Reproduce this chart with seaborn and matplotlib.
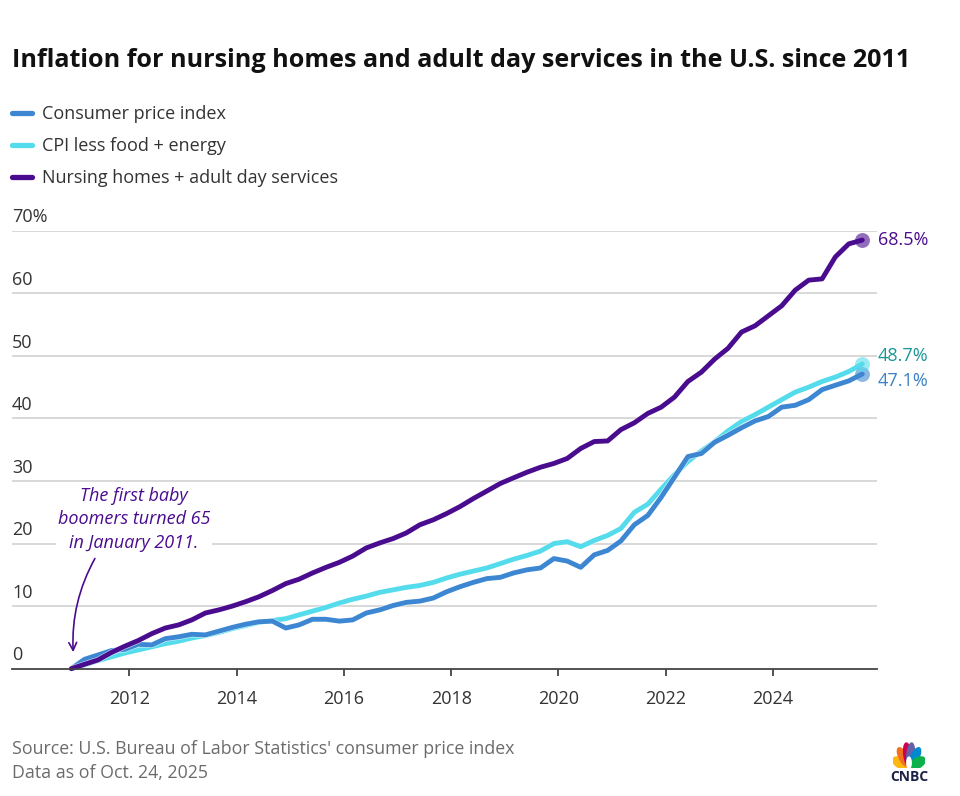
import pandas as pd
import numpy as np
import seaborn as sns
import matplotlib.pyplot as plt
import matplotlib.transforms as mtransforms
import matplotlib.patheffects as pe
from matplotlib.lines import Line2D
from matplotlib.patches import Ellipse

# Données : variation cumulée (%) depuis déc. 2010, une valeur par trimestre
dates = pd.date_range("2010-12-01", "2025-09-01", freq="3MS")

cpi = [0.0,
       1.5, 2.2, 2.9, 3.1,      # 2011
       3.9, 3.8, 4.8, 5.1,      # 2012
       5.5, 5.4, 6.0, 6.6,      # 2013
       7.1, 7.5, 7.6, 6.5,      # 2014
       7.0, 7.9, 7.9, 7.6,      # 2015
       7.8, 8.9, 9.4, 10.1,     # 2016
       10.6, 10.8, 11.3, 12.3,  # 2017
       13.1, 13.8, 14.4, 14.6,  # 2018
       15.3, 15.8, 16.1, 17.6,  # 2019
       17.2, 16.2, 18.2, 18.9,  # 2020
       20.4, 23.0, 24.5, 27.4,  # 2021
       30.6, 33.9, 34.4, 36.2,  # 2022
       37.3, 38.5, 39.6, 40.3,  # 2023
       41.8, 42.1, 43.0, 44.6,  # 2024
       45.3, 46.0, 47.1]        # 2025

core = [0.0,
        0.6, 1.3, 1.9, 2.5,
        3.0, 3.5, 4.0, 4.4,
        4.9, 5.3, 5.8, 6.4,
        6.9, 7.4, 7.7, 8.0,
        8.6, 9.2, 9.8, 10.5,
        11.1, 11.6, 12.2, 12.6,
        13.0, 13.3, 13.8, 14.5,
        15.1, 15.6, 16.1, 16.8,
        17.5, 18.1, 18.8, 20.0,
        20.3, 19.5, 20.5, 21.3,
        22.4, 25.0, 26.3, 28.7,
        31.0, 33.1, 34.8, 36.3,
        38.0, 39.5, 40.6, 41.8,
        43.0, 44.2, 45.0, 45.9,
        46.6, 47.5, 48.7]

nursing = [0.0,
           0.7, 1.4, 2.6, 3.6,
           4.5, 5.6, 6.5, 7.0,
           7.8, 8.9, 9.4, 10.0,
           10.7, 11.5, 12.5, 13.6,
           14.3, 15.3, 16.2, 17.0,
           18.0, 19.3, 20.1, 20.8,
           21.7, 23.0, 23.8, 24.8,
           25.9, 27.2, 28.4, 29.6,
           30.5, 31.4, 32.2, 32.8,
           33.6, 35.2, 36.3, 36.4,
           38.2, 39.3, 40.8, 41.8,
           43.4, 45.9, 47.4, 49.5,
           51.2, 53.8, 54.8, 56.4,
           58.0, 60.5, 62.1, 62.3,
           65.8, 67.9, 68.5]

series_names = ["Consumer price index", "CPI less food + energy",
                "Nursing homes + adult day services"]
end_labels = ["47.1%", "48.7%", "68.5%"]
y_ticks = [0, 10, 20, 30, 40, 50, 60, 70]
y_tick_labels = ["0", "10", "20", "30", "40", "50", "60", "70%"]
x_tick_years = [2012, 2014, 2016, 2018, 2020, 2022, 2024]

colors = {"Consumer price index": "#3d87d2",
          "CPI less food + energy": "#55dcec",
          "Nursing homes + adult day services": "#4a0c8e"}
label_colors = ["#3a82c8", "#1b9696", "#4a0c8e"]

df = pd.DataFrame({"date": list(dates) * 3,
                   "value": cpi + core + nursing,
                   "series": [n for n in series_names for _ in range(len(dates))]})

sns.set_theme(style="white")
plt.rcParams['font.family'] = ['Open Sans', 'DejaVu Sans']

fig = plt.figure(figsize=(9.6, 7.96), dpi=100)
ax = fig.add_axes([12 / 960, 1 - 668.7 / 796, 865 / 960, 438 / 796])

sns.lineplot(data=df, x="date", y="value", hue="series",
             hue_order=[series_names[1], series_names[0], series_names[2]],
             palette=colors, linewidth=3.5, legend=False, ax=ax)
for ln in ax.get_lines():
    ln.set_solid_capstyle("round")
    ln.set_clip_on(False)
    ln.set_path_effects([pe.Stroke(linewidth=4.5, foreground="white", alpha=0.6), pe.Normal()])

ax.set_xlim(pd.Timestamp("2009-10-23"), pd.Timestamp("2025-12-10"))
ax.set_ylim(0, 70)

# axes et grille
for s in ["top", "right", "left"]:
    ax.spines[s].set_visible(False)
ax.spines["bottom"].set_color("#444444")
ax.spines["bottom"].set_linewidth(1.3)
ax.set_yticks(y_ticks[1:])
ax.yaxis.grid(True, color="#d6d6d6", linewidth=1.3)
ax.set_axisbelow(True)
ax.tick_params(axis="y", length=0, labelleft=False)
ax.set_xticks([pd.Timestamp(f"{y}-01-01") for y in x_tick_years])
ax.set_xticklabels([str(y) for y in x_tick_years])
ax.tick_params(axis="x", length=5, width=1.3, color="#444444", pad=10,
               labelsize=13, labelcolor="#333333", bottom=True)
ax.set_xlabel("")
ax.set_ylabel("")

trans = mtransforms.blended_transform_factory(ax.transAxes, ax.transData)
for v, lab in zip(y_ticks, y_tick_labels):
    ax.annotate(lab, xy=(0, v), xycoords=trans, xytext=(0, 6), textcoords="offset points",
                ha="left", va="baseline", fontsize=13, color="#333333")

# points et étiquettes de fin
last = dates[-1]
offsets = [-5, 6, 0]
for name, vals, lab, lc, dy in zip(series_names, [cpi, core, nursing], end_labels, label_colors, offsets):
    ax.scatter([last], [vals[-1]], s=115, color=colors[name], alpha=0.6, zorder=5,
               linewidths=0, clip_on=False)
    ax.annotate(lab, xy=(last, vals[-1]), xytext=(11, dy), textcoords="offset points",
                ha="left", va="center", fontsize=13, color=lc)

# annotation
purple = "#4a0c8e"
ax.text(pd.Timestamp("2012-02-01"), 23.9,
        "The first baby\nboomers turned 65\nin January 2011.",
        ha="center", va="center", fontsize=13, style="italic", color=purple,
        linespacing=1.4, zorder=4, bbox=dict(fc="white", ec="none", pad=1))
ax.annotate("", xy=(pd.Timestamp("2010-12-15"), 2.2), xytext=(pd.Timestamp("2011-05-20"), 18.0),
            arrowprops=dict(arrowstyle="->", color=purple, lw=1.2,
                            connectionstyle="arc3,rad=0.15", mutation_scale=14))

# légende
handles = [Line2D([0], [0], color=colors[n], lw=3.8, solid_capstyle="round") for n in series_names]
fig.legend(handles, series_names, loc="upper left", bbox_to_anchor=(12 / 960, 1 - 105 / 796),
           frameon=False, fontsize=13, handlelength=1.1, handletextpad=0.55,
           labelspacing=0.78, borderpad=0, borderaxespad=0, labelcolor="#333333")

# titre et source
fig.text(12 / 960, 1 - 67 / 796, "Inflation for nursing homes and adult day services in the U.S. since 2011",
         ha="left", va="baseline", fontsize=18.1, fontweight="bold", color="#111111")
fig.text(12 / 960, 1 - 749 / 796, "Source: U.S. Bureau of Labor Statistics' consumer price index",
         ha="left", va="center", fontsize=12.8, color="#6b6b6b")
fig.text(12 / 960, 1 - 773 / 796, "Data as of Oct. 24, 2025",
         ha="left", va="center", fontsize=12.8, color="#6b6b6b")

# logo CNBC
lax = fig.add_axes([893 / 960, 1 - 768 / 796, 32 / 960, 28 / 796])
lax.set_xlim(-1.1, 1.1)
lax.set_ylim(-0.05, 1.3)
lax.axis("off")
feather_colors = ["#fcb711", "#f37021", "#cc004c", "#6460aa", "#0089d0", "#0db14b"]
feather_angles = [162, 130, 100, 80, 50, 18]
for c, a in zip(feather_colors, feather_angles):
    r = np.deg2rad(a)
    lax.add_patch(Ellipse((0.62 * np.cos(r), 0.62 * np.sin(r)), 0.5, 1.1, angle=a - 90, color=c))
lax.add_patch(Ellipse((0, 0.2), 0.3, 0.55, color="white"))
fig.text(909 / 960, 1 - 777 / 796, "CNBC", ha="center", va="center", fontsize=10,
         fontweight="bold", color="#1b2244")

fig.savefig("out.png", dpi=100)
